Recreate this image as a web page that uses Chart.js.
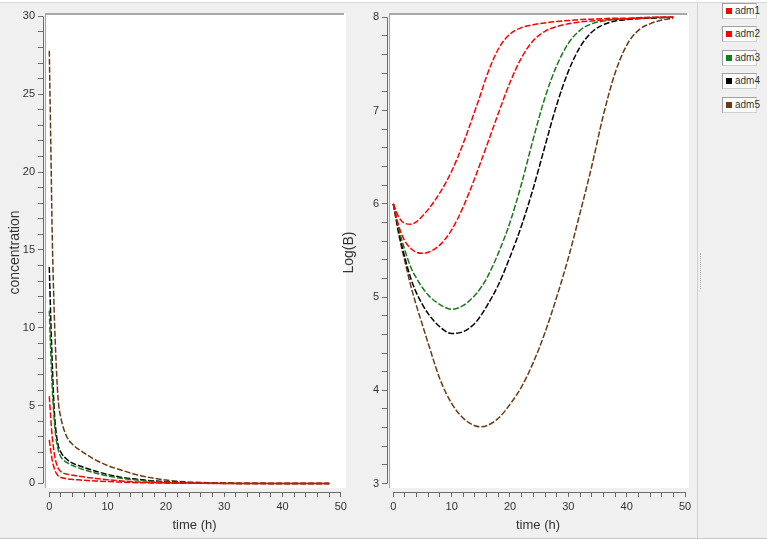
<!DOCTYPE html>
<html>
<head>
<meta charset="utf-8">
<script src="https://cdn.jsdelivr.net/npm/chart.js@4.4.1/dist/chart.umd.min.js"></script>
<style>
    html, body { margin: 0; padding: 0; background: #fff; width: 767px; height: 544px; overflow: hidden; }
    #panel { position: absolute; left: 0; top: 2px; width: 767px; height: 537px; background: #f0f0f0;
             border-top: 1px solid #d8d8d8; border-bottom: 1px solid #c8c8c8; box-sizing: border-box; }
    #sep { position: absolute; left: 697px; top: 2px; width: 0; height: 537px; border-left: 1px solid #d0d0d0; }
    #grip { position: absolute; left: 700px; top: 253px; width: 0; height: 36px; border-left: 1px dotted #b8b8b8; }
    canvas { position: absolute; top: 0; }
    #concChart { left: 0; }
    #logChart { left: 340px; }
    .leg { position: absolute; left: 722px; width: 35px; height: 16px; background: #fff; box-sizing: border-box;
           border: 1px solid #d0d0d0; border-top-color: #a0a0a0; border-left-color: #a0a0a0;
           font: 10px 'Liberation Sans', Arial, sans-serif; color: #333; line-height: 14px; white-space: nowrap; }
    .leg i { display: inline-block; width: 6px; height: 6px; margin: 0 3px 0 3px; vertical-align: 0px; }
</style>
</head>
<body>
<div id="panel"></div>
<div id="sep"></div>
<div id="grip"></div>
<canvas id="concChart" width="350" height="544"></canvas>
<canvas id="logChart" width="357" height="544"></canvas>
<div id="legend"></div>
<script>
const seriesNames = ['adm1', 'adm2', 'adm3', 'adm4', 'adm5'];
const seriesColors = ['#ff0000', '#ff0000', '#1a7a1a', '#000000', '#6b3a14'];

// left panel: concentration vs time
const timeConc = [0, 0.25, 0.5, 0.75, 1, 1.5, 2, 3, 4, 5, 6, 8, 10, 12, 15, 18, 20, 22, 25, 28, 30, 35, 40, 45, 48];
const concAdm1 = [2.8, 2.1, 1.5, 1.1, 0.8, 0.5, 0.38, 0.3, 0.26, 0.23, 0.2, 0.16, 0.12, 0.09, 0.05, 0.03, 0.02, 0.01, 0.01, 0, 0, 0, 0, 0, 0];
const concAdm2 = [5.6, 4.2, 3.0, 2.2, 1.6, 1.0, 0.75, 0.6, 0.52, 0.46, 0.41, 0.32, 0.24, 0.17, 0.1, 0.06, 0.04, 0.03, 0.02, 0.01, 0, 0, 0, 0, 0];
const concAdm3 = [11.1, 8.4, 6.2, 4.6, 3.4, 2.2, 1.7, 1.35, 1.15, 1.0, 0.88, 0.66, 0.48, 0.35, 0.22, 0.13, 0.09, 0.06, 0.03, 0.02, 0.01, 0, 0, 0, 0];
const concAdm4 = [13.9, 10.6, 7.8, 5.4, 3.9, 2.5, 2.0, 1.55, 1.3, 1.15, 1.02, 0.78, 0.58, 0.42, 0.27, 0.16, 0.11, 0.07, 0.04, 0.02, 0.01, 0, 0, 0, 0];
const concAdm5 = [27.8, 22, 16, 12.2, 9.3, 5.5, 4.2, 3.0, 2.5, 2.2, 1.95, 1.5, 1.15, 0.9, 0.56, 0.33, 0.22, 0.14, 0.07, 0.04, 0.02, 0.01, 0, 0, 0];

// right panel: Log(B) vs time
const timeLog = [0, 1, 2, 3, 4, 5, 6, 8, 10, 12, 14, 15, 16, 18, 20, 22, 24, 26, 28, 30, 32, 34, 36, 38, 40, 42, 44, 46, 48];
const logAdm1 = [6.0, 5.85, 5.79, 5.78, 5.81, 5.87, 5.94, 6.12, 6.35, 6.65, 7.0, 7.18, 7.37, 7.66, 7.82, 7.89, 7.92, 7.94, 7.955, 7.965, 7.975, 7.98, 7.985, 7.99, 7.99, 7.995, 8.0, 8.0, 8.0];
const logAdm2 = [6.0, 5.75, 5.6, 5.52, 5.48, 5.47, 5.48, 5.56, 5.72, 5.97, 6.28, 6.45, 6.62, 6.97, 7.3, 7.57, 7.75, 7.85, 7.9, 7.93, 7.95, 7.96, 7.97, 7.98, 7.985, 7.99, 7.995, 8.0, 8.0];
const logAdm3 = [6.0, 5.72, 5.5, 5.32, 5.2, 5.1, 5.02, 4.92, 4.87, 4.91, 5.02, 5.1, 5.2, 5.47, 5.8, 6.22, 6.7, 7.14, 7.48, 7.72, 7.86, 7.93, 7.96, 7.975, 7.985, 7.99, 7.995, 8.0, 8.0];
const logAdm4 = [6.0, 5.68, 5.42, 5.2, 5.04, 4.92, 4.82, 4.68, 4.61, 4.63, 4.72, 4.8, 4.9, 5.13, 5.43, 5.77, 6.17, 6.62, 7.06, 7.42, 7.68, 7.84, 7.92, 7.96, 7.975, 7.985, 7.99, 7.995, 8.0];
const logAdm5 = [6.0, 5.65, 5.38, 5.12, 4.9, 4.7, 4.5, 4.12, 3.86, 3.7, 3.62, 3.61, 3.62, 3.7, 3.85, 4.04, 4.3, 4.62, 5.0, 5.42, 5.9, 6.4, 6.95, 7.4, 7.7, 7.86, 7.93, 7.97, 7.99];

const concSeries = [concAdm1, concAdm2, concAdm3, concAdm4, concAdm5];
const logSeries = [logAdm1, logAdm2, logAdm3, logAdm4, logAdm5];

const FONT = "'Liberation Sans', Arial, sans-serif";

function makeDatasets(times, series) {
    return series.map((vals, i) => ({
        label: seriesNames[i],
        data: vals.map((v, k) => ({ x: times[k], y: v })),
        borderColor: seriesColors[i],
        borderWidth: 1.5,
        borderDash: [6, 2],
        pointRadius: 0,
        fill: false,
        cubicInterpolationMode: 'monotone'
    }));
}

// white plot box with sunken frame + axis lines limited to the tick range
const plotFrame = {
    id: 'plotFrame',
    beforeDraw(chart) {
        const { ctx, chartArea: a } = chart;
        ctx.save();
        ctx.fillStyle = '#ffffff';
        ctx.fillRect(a.left + 2, a.top, a.right - a.left - 2, a.bottom - a.top - 4);
        ctx.strokeStyle = '#a8a8a8';
        ctx.lineWidth = 2;
        ctx.beginPath();
        ctx.moveTo(a.left + 2, a.top + 1);
        ctx.lineTo(a.right - 2, a.top + 1);
        ctx.stroke();
        ctx.lineWidth = 1;
        ctx.beginPath();
        ctx.moveTo(a.left + 2.5, a.top);
        ctx.lineTo(a.left + 2.5, a.bottom - 4);
        ctx.stroke();
        ctx.restore();
    },
    afterDraw(chart) {
        const { ctx, chartArea: a, scales: { x, y } } = chart;
        const xt = x.ticks, yt = y.ticks;
        ctx.save();
        ctx.strokeStyle = '#6e6e6e';
        ctx.lineWidth = 1;
        ctx.beginPath();
        ctx.moveTo(a.left + 0.5, y.getPixelForValue(yt[0].value));
        ctx.lineTo(a.left + 0.5, y.getPixelForValue(yt[yt.length - 1].value));
        ctx.moveTo(x.getPixelForValue(xt[0].value), a.bottom + 0.5);
        ctx.lineTo(x.getPixelForValue(xt[xt.length - 1].value), a.bottom + 0.5);
        ctx.stroke();
        ctx.restore();
    }
};

function makeOptions(cfg) {
    return {
        responsive: false,
        animation: false,
        layout: { padding: { top: 13, right: cfg.padRight, left: 0, bottom: 0 } },
        plugins: { legend: { display: false }, tooltip: { enabled: false } },
        scales: {
            x: {
                type: 'linear',
                min: cfg.xMin, max: cfg.xMax,
                afterFit: s => { s.height = 52; },
                border: { display: false },
                grid: { drawOnChartArea: false, drawTicks: true, tickLength: 5, tickColor: '#6e6e6e' },
                ticks: {
                    stepSize: 2, includeBounds: false, autoSkip: false, maxRotation: 0,
                    color: '#333', font: { family: FONT, size: 11 }, padding: 3,
                    callback: v => (Math.round(v) % 10 === 0 ? String(Math.round(v)) : '')
                },
                title: { display: true, text: 'time (h)', color: '#333', font: { family: FONT, size: 13 }, padding: { top: 0, bottom: 11 } }
            },
            y: {
                type: 'linear',
                min: cfg.yMin, max: cfg.yMax,
                afterFit: s => { s.width = cfg.yWidth; },
                border: { display: false },
                grid: { drawOnChartArea: false, drawTicks: true, tickLength: 5, tickColor: '#6e6e6e' },
                ticks: {
                    stepSize: cfg.yStep, includeBounds: false, autoSkip: false,
                    color: '#333', font: { family: FONT, size: 11 }, padding: 3,
                    callback: cfg.yLabel
                },
                title: { display: true, text: cfg.yTitle, color: '#333', font: { family: FONT, size: 14 }, padding: { top: cfg.yTitlePad, bottom: 0 } }
            }
        }
    };
}

new Chart(document.getElementById('concChart'), {
    type: 'line',
    data: { datasets: makeDatasets(timeConc, concSeries) },
    options: makeOptions({
        padRight: 3, xMin: -1.08, xMax: 50.9, yMin: -0.55, yMax: 30.22, yStep: 1, yWidth: 43,
        yTitle: 'concentration', yTitlePad: 7,
        yLabel: v => (Math.round(v) % 5 === 0 ? String(Math.round(v)) : '')
    }),
    plugins: [plotFrame]
});

new Chart(document.getElementById('logChart'), {
    type: 'line',
    data: { datasets: makeDatasets(timeLog, logSeries) },
    options: makeOptions({
        padRight: 8, xMin: -1.08, xMax: 50.68, yMin: 2.91, yMax: 8.046, yStep: 0.2, yWidth: 47,
        yTitle: 'Log(B)', yTitlePad: 1,
        yLabel: v => (Math.abs(v - Math.round(v)) < 1e-6 ? String(Math.round(v)) : '')
    }),
    plugins: [plotFrame]
});

// legend boxes on the right
const legendEl = document.getElementById('legend');
seriesNames.forEach((name, i) => {
    const d = document.createElement('div');
    d.className = 'leg';
    d.style.top = (3 + i * 23.4) + 'px';
    d.innerHTML = '<i style="background:' + seriesColors[i] + '"></i>' + name;
    legendEl.appendChild(d);
});
</script>
</body>
</html>
